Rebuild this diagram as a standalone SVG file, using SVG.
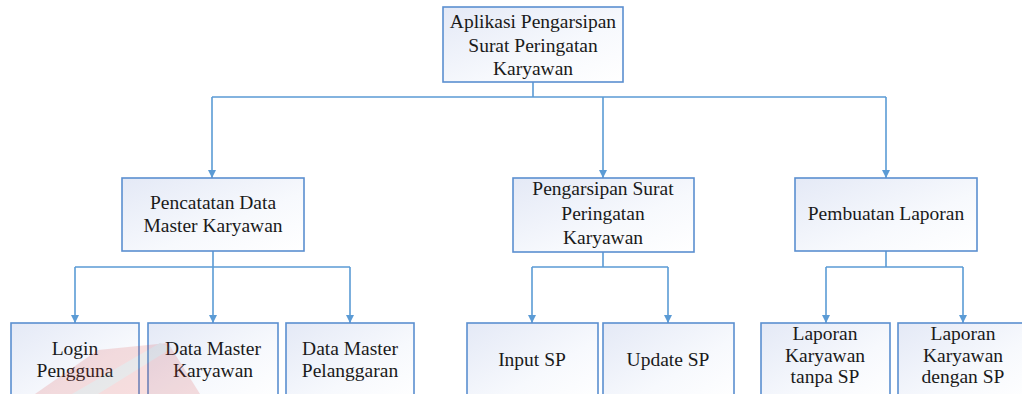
<svg xmlns="http://www.w3.org/2000/svg" width="1022" height="394" viewBox="0 0 1022 394">
  <defs>
    <linearGradient id="boxFill" x1="0" y1="0" x2="1" y2="1">
      <stop offset="0" stop-color="#e4e9f6"/>
      <stop offset="0.6" stop-color="#f7f9fd"/>
      <stop offset="1" stop-color="#ffffff"/>
    </linearGradient>
    <marker id="arrow" markerWidth="10" markerHeight="10" refX="8" refY="4" orient="auto" markerUnits="userSpaceOnUse">
      <path d="M0,0 L8,4 L0,8 Z" fill="#5b9bd5"/>
    </marker>
  </defs>
  <style>
    .box { fill: url(#boxFill); stroke: #5b8fd0; stroke-width: 1.6; }
    .lbl { font-family: 'Liberation Serif', 'Times New Roman', 'DejaVu Serif', serif; font-size: 19.5px; fill: #1a1a1a; text-anchor: middle; }
    .wire { fill: none; stroke: #5b9bd5; stroke-width: 1.6; }
    .arr { marker-end: url(#arrow); }
  </style>
  <rect width="1022" height="394" fill="#ffffff"/>

  <!-- connectors -->
  <g id="connectors">
    <path class="wire" d="M533,82 V97 M212,97 H886"/>
    <path class="wire arr" d="M212,97 V178"/>
    <path class="wire arr" d="M603,97 V178"/>
    <path class="wire arr" d="M886,97 V178"/>

    <path class="wire" d="M213,251 V267 M75,267 H350"/>
    <path class="wire arr" d="M75,267 V323"/>
    <path class="wire arr" d="M213,267 V323"/>
    <path class="wire arr" d="M350,267 V323"/>

    <path class="wire" d="M603,252 V267 M532,267 H668"/>
    <path class="wire arr" d="M532,267 V323"/>
    <path class="wire arr" d="M668,267 V323"/>

    <path class="wire" d="M886,251 V267 M826,267 H963"/>
    <path class="wire arr" d="M826,267 V323"/>
    <path class="wire arr" d="M963,267 V323"/>
  </g>

  <g font-family="Liberation Serif, serif">
  <!-- root -->
  <g id="node-root">
    <rect class="box" x="443" y="7" width="180" height="75"/>
    <text class="lbl" x="533" y="28">Aplikasi Pengarsipan</text>
    <text class="lbl" x="533" y="52">Surat Peringatan</text>
    <text class="lbl" x="533" y="75">Karyawan</text>
  </g>

  <!-- second level -->
  <g id="node-pencatatan">
    <rect class="box" x="122" y="178" width="182" height="73"/>
    <text class="lbl" x="213" y="209">Pencatatan Data</text>
    <text class="lbl" x="213" y="232">Master Karyawan</text>
  </g>
  <g id="node-pengarsipan">
    <rect class="box" x="513" y="178" width="181" height="74"/>
    <text class="lbl" x="603" y="195">Pengarsipan Surat</text>
    <text class="lbl" x="603" y="220">Peringatan</text>
    <text class="lbl" x="603" y="244">Karyawan</text>
  </g>
  <g id="node-pembuatan">
    <rect class="box" x="795" y="178" width="182" height="73"/>
    <text class="lbl" x="886" y="220">Pembuatan Laporan</text>
  </g>

  <!-- third level -->
  <g id="node-login">
    <rect class="box" x="11" y="323" width="128" height="80"/>
    <text class="lbl" x="75" y="355">Login</text>
    <text class="lbl" x="75" y="377">Pengguna</text>
  </g>
  <g id="node-data-karyawan">
    <rect class="box" x="148" y="323" width="130" height="80"/>
    <text class="lbl" x="213" y="355">Data Master</text>
    <text class="lbl" x="213" y="377">Karyawan</text>
  </g>
  <g id="node-data-pelanggaran">
    <rect class="box" x="286" y="323" width="128" height="80"/>
    <text class="lbl" x="350" y="355">Data Master</text>
    <text class="lbl" x="350" y="377">Pelanggaran</text>
  </g>
  <g id="node-input-sp">
    <rect class="box" x="467" y="323" width="131" height="80"/>
    <text class="lbl" x="532" y="366">Input SP</text>
  </g>
  <g id="node-update-sp">
    <rect class="box" x="603" y="323" width="131" height="80"/>
    <text class="lbl" x="668" y="366">Update SP</text>
  </g>
  <g id="node-laporan-tanpa">
    <rect class="box" x="761" y="323" width="129" height="80"/>
    <text class="lbl" x="825" y="340">Laporan</text>
    <text class="lbl" x="825" y="362">Karyawan</text>
    <text class="lbl" x="825" y="383">tanpa SP</text>
  </g>
  <g id="node-laporan-dengan">
    <rect class="box" x="898" y="323" width="130" height="80"/>
    <text class="lbl" x="963" y="340">Laporan</text>
    <text class="lbl" x="963" y="362">Karyawan</text>
    <text class="lbl" x="963" y="383">dengan SP</text>
  </g>
  </g>

  <!-- faint logo mark over the bottom-left boxes -->
  <g id="logo-mark" opacity="0.16">
    <polygon points="35,394 98,350 168,343 200,394" fill="#d9403f"/>
    <polygon points="160,343 172,348 98,394 72,394" fill="#8a8a8a"/>
  </g>
</svg>
